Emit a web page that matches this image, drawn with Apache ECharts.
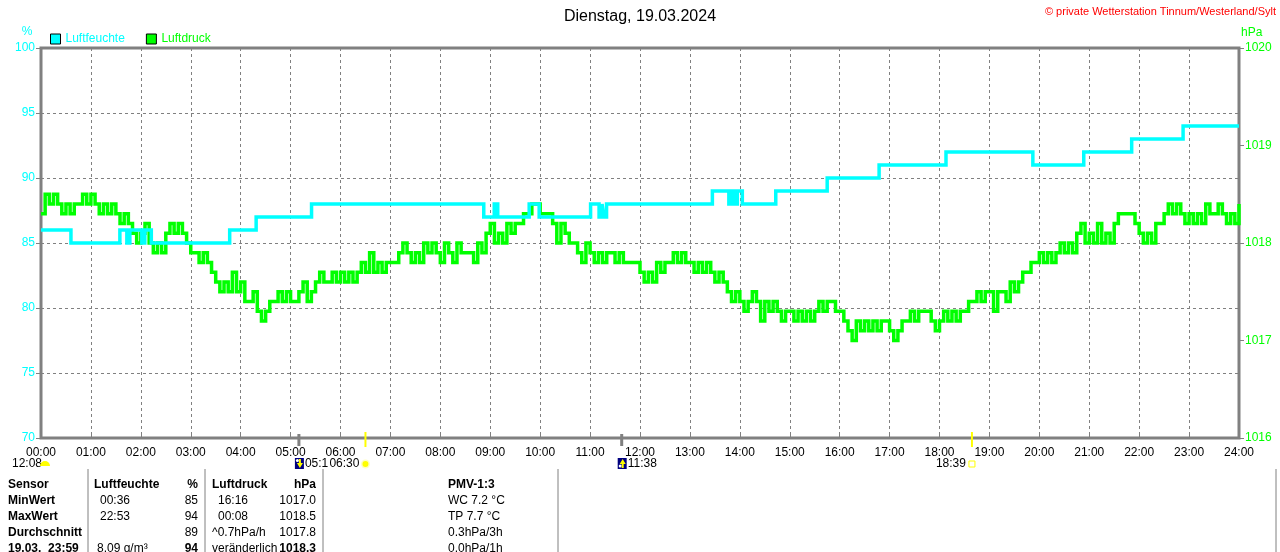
<!DOCTYPE html>
<html>
<head>
<meta charset="utf-8">
<title>Dienstag, 19.03.2024</title>
<script src="https://cdn.jsdelivr.net/npm/echarts@6/dist/echarts.min.js"></script>
<style>
html, body { margin: 0; padding: 0; background: #fff; }
#chart { width: 1280px; height: 552px; }
</style>
</head>
<body>
<div id="chart"></div>
<script>
// Luftfeuchte: time (hours) where a level starts, and the level in %
const humTimes = [0, 0.60, 1.58, 1.72, 1.78, 2.02, 2.08, 2.21, 3.78, 4.31, 5.42,
  8.87, 9.08, 9.15, 9.78, 9.98, 11.01, 11.18, 11.24, 11.28, 11.33,
  13.45, 13.78, 13.84, 13.90, 13.95, 14.05, 14.72, 15.75, 16.79, 18.13,
  19.87, 20.89, 21.85, 22.88, 24];
const humValues = [86, 85, 86, 85, 86, 85, 86, 85, 86, 87, 88,
  87, 88, 87, 88, 87, 88, 87, 88, 87, 88,
  89, 88, 89, 88, 89, 88, 89, 90, 91, 92,
  91, 92, 93, 94, 94];

// Luftdruck in hPa, one value every 5 minutes (one row per hour)
const pressStepMinutes = 5;
const pressValues = [
  1018.3,1018.5,1018.4,1018.5,1018.4,1018.3,1018.4,1018.3,1018.4,1018.4,1018.5,1018.4,
  1018.5,1018.4,1018.3,1018.4,1018.3,1018.4,1018.3,1018.2,1018.3,1018.2,1018.1,1018.0,
  1018.1,1018.2,1018.0,1017.9,1018.0,1017.9,1018.1,1018.2,1018.1,1018.2,1018.1,1018.0,
  1017.9,1017.9,1017.8,1017.9,1017.8,1017.7,1017.6,1017.5,1017.6,1017.5,1017.7,1017.5,
  1017.6,1017.4,1017.4,1017.5,1017.3,1017.2,1017.3,1017.4,1017.4,1017.5,1017.4,1017.5,
  1017.4,1017.4,1017.5,1017.6,1017.4,1017.5,1017.6,1017.7,1017.6,1017.6,1017.7,1017.6,
  1017.7,1017.6,1017.7,1017.6,1017.7,1017.8,1017.7,1017.9,1017.7,1017.8,1017.7,1017.8,
  1017.8,1017.8,1017.9,1018.0,1017.9,1017.8,1017.9,1017.8,1018.0,1017.9,1018.0,1017.9,
  1017.8,1018.0,1017.9,1017.8,1018.0,1017.9,1017.9,1017.9,1017.8,1018.0,1017.9,1018.1,
  1018.2,1018.0,1018.1,1018.0,1018.2,1018.1,1018.2,1018.2,1018.3,1018.3,1018.4,1018.4,
  1018.3,1018.3,1018.3,1018.2,1018.0,1018.2,1018.1,1018.0,1018.0,1017.9,1017.8,1018.0,
  1017.9,1017.8,1017.9,1017.8,1017.9,1017.9,1017.8,1017.9,1017.8,1017.8,1017.8,1017.8,
  1017.7,1017.6,1017.7,1017.6,1017.8,1017.7,1017.8,1017.8,1017.9,1017.8,1017.9,1017.8,
  1017.8,1017.7,1017.8,1017.7,1017.8,1017.7,1017.6,1017.7,1017.6,1017.5,1017.4,1017.5,
  1017.4,1017.3,1017.4,1017.5,1017.4,1017.2,1017.4,1017.3,1017.4,1017.3,1017.2,1017.3,
  1017.3,1017.2,1017.3,1017.2,1017.3,1017.2,1017.3,1017.4,1017.3,1017.4,1017.4,1017.3,
  1017.3,1017.2,1017.1,1017.0,1017.2,1017.1,1017.2,1017.1,1017.2,1017.1,1017.2,1017.2,
  1017.1,1017.0,1017.1,1017.2,1017.2,1017.3,1017.2,1017.3,1017.3,1017.3,1017.2,1017.1,
  1017.2,1017.3,1017.2,1017.3,1017.2,1017.3,1017.3,1017.4,1017.4,1017.5,1017.4,1017.5,
  1017.5,1017.3,1017.5,1017.5,1017.4,1017.6,1017.5,1017.6,1017.7,1017.7,1017.8,1017.8,
  1017.9,1017.8,1017.9,1017.8,1017.9,1018.0,1017.9,1018.0,1017.9,1018.1,1018.2,1018.0,
  1018.1,1018.0,1018.2,1018.0,1018.1,1018.0,1018.2,1018.3,1018.3,1018.3,1018.3,1018.2,
  1018.1,1018.0,1018.1,1018.0,1018.2,1018.2,1018.3,1018.4,1018.3,1018.4,1018.3,1018.2,
  1018.3,1018.2,1018.3,1018.2,1018.4,1018.3,1018.3,1018.4,1018.3,1018.2,1018.3,1018.2,
  1018.4
];

// sun / moon events (hours) below the time axis
const moonrise = 5 + 10 / 60;
const sunrise = 6.5;
const moonset = 11 + 38 / 60;
const sunset = 18 + 39 / 60;
const dayLength = '12:08';

// table below the chart
const tableHead = ['Sensor', 'Luftfeuchte', '%', 'Luftdruck', 'hPa', 'PMV-1:3'];
const rowNames = ['MinWert', 'MaxWert', 'Durchschnitt', '19.03.  23:59'];
const humTimeCol = ['00:36', '22:53', '', '8.09 g/m³'];
const humValCol = ['85', '94', '89', '94'];
const pressTimeCol = ['16:16', '00:08', '^0.7hPa/h', 'veränderlich'];
const pressValCol = ['1017.0', '1018.5', '1017.8', '1018.3'];
const pmvCol = ['WC 7.2 °C', 'TP 7.7 °C', '0.3hPa/3h', '0.0hPa/1h'];

const font = '"Liberation Sans", Arial, sans-serif';
const pad = n => (n < 10 ? '0' : '') + n;

const humData = humTimes.map((t, i) => [t, humValues[i]]);
const pressData = pressValues.map((v, i) => [i * pressStepMinutes / 60, v]);

const chart = echarts.init(document.getElementById('chart'));
chart.setOption({
  animation: false,
  textStyle: { fontFamily: font },
  title: {
    text: 'Dienstag, 19.03.2024', left: 'center', top: 4,
    textStyle: { fontSize: 16, fontWeight: 'normal', color: '#000', fontFamily: font }
  },
  legend: {
    left: 45, top: 28, icon: 'rect', itemWidth: 10, itemHeight: 10, itemGap: 21,
    itemStyle: { borderColor: '#000', borderWidth: 1 },
    textStyle: { fontSize: 12, fontFamily: font },
    data: [
      { name: 'Luftfeuchte', textStyle: { color: '#00ffff' } },
      { name: 'Luftdruck', textStyle: { color: '#00ff00' } }
    ]
  },
  grid: {
    left: 41, right: 41, top: 48, bottom: 114, show: true,
    borderColor: '#808080', borderWidth: 3, backgroundColor: 'transparent'
  },
  xAxis: {
    type: 'value', min: 0, max: 24, interval: 1,
    axisLine: { show: false },
    axisTick: { inside: true, length: 5, lineStyle: { color: '#808080' } },
    splitLine: { show: true, lineStyle: { color: '#808080', type: [3, 3] } },
    axisLabel: { formatter: v => pad(v) + ':00', color: '#000', fontSize: 12, margin: 9, fontFamily: font }
  },
  yAxis: [
    {
      type: 'value', min: 70, max: 100, interval: 5, position: 'left',
      axisLine: { show: false },
      axisTick: { show: true, length: 5, lineStyle: { color: '#808080' } },
      axisLabel: { color: '#00ffff', fontSize: 12, margin: 6, fontFamily: font },
      splitLine: { show: true, lineStyle: { color: '#808080', type: [3, 3] } }
    },
    {
      type: 'value', min: 1016, max: 1020, interval: 1, position: 'right',
      axisLine: { show: false },
      axisTick: { show: true, length: 5, lineStyle: { color: '#808080' } },
      axisLabel: { color: '#00ff00', fontSize: 12, margin: 6, fontFamily: font, formatter: v => String(v) },
      splitLine: { show: false }
    }
  ],
  series: [
    {
      name: 'Luftfeuchte', type: 'line', yAxisIndex: 0, step: 'end',
      showSymbol: false, data: humData, z: 3,
      itemStyle: { color: '#00ffff' },
      lineStyle: { color: '#00ffff', width: 3.5, join: 'miter', cap: 'butt' }
    },
    {
      name: 'Luftdruck', type: 'line', yAxisIndex: 1, step: 'end',
      showSymbol: false, data: pressData, z: 2,
      itemStyle: { color: '#00ff00' },
      lineStyle: { color: '#00ff00', width: 3.5, join: 'miter', cap: 'butt' }
    }
  ]
});

// decorations placed through the x scale
const px = t => chart.convertToPixel({ xAxisIndex: 0 }, t);
const axisY = chart.convertToPixel({ yAxisIndex: 0 }, 70);
const rowY = 464;

function txt(x, y, text, opt) {
  return {
    type: 'text', x: x, y: y, z: 10,
    style: Object.assign({
      text: text, fill: '#000', font: '12px ' + font,
      textAlign: 'left', textVerticalAlign: 'middle'
    }, opt || {})
  };
}
function moonIcon(x, up) {
  return {
    type: 'group', x: x - 4, y: rowY - 6, z: 10,
    children: [
      { type: 'rect', shape: { x: 0, y: 0, width: 9, height: 11 }, style: { fill: '#000080' } },
      { type: 'circle', shape: { cx: 2.5, cy: up ? 8 : 2.5, r: 1.5 }, style: { fill: '#ffffff' } },
      { type: 'polygon', shape: { points: up ? [[5, 1], [8, 6], [6, 6], [6, 10], [4, 10], [4, 6], [2, 6]] : [[5, 10], [8, 5], [6, 5], [6, 1], [4, 1], [4, 5], [2, 5]] }, style: { fill: '#ffff00' } }
    ]
  };
}

const g = [];
g.push(txt(1276, 12, '© private Wetterstation Tinnum/Westerland/Sylt', { fill: '#ff0000', textAlign: 'right', font: '11px ' + font }));
g.push(txt(27, 32, '%', { fill: '#00ffff', textAlign: 'center', font: '12px ' + font }));
g.push(txt(1241, 33, 'hPa', { fill: '#00ff00', font: '12px ' + font }));

// sun / moon ticks on the axis
[sunrise, sunset].forEach(t => g.push({
  type: 'line', z: 9, shape: { x1: px(t), y1: axisY - 6, x2: px(t), y2: axisY + 9 },
  style: { stroke: '#ffff00', lineWidth: 2 }
}));
[moonrise, moonset].forEach(t => g.push({
  type: 'line', z: 9, shape: { x1: px(t), y1: axisY - 4, x2: px(t), y2: axisY + 8 },
  style: { stroke: '#808080', lineWidth: 3 }
}));

// second row below the axis
g.push(txt(12, rowY, dayLength));
g.push({ type: 'sector', z: 10, shape: { cx: 45, cy: rowY + 2, r: 5, startAngle: Math.PI, endAngle: 2 * Math.PI }, style: { fill: '#ffff00' } });
g.push(moonIcon(px(moonrise), false));
g.push(txt(px(moonrise) + 6, rowY, '05:1'));
g.push(txt(px(sunrise) - 6, rowY, '06:30', { textAlign: 'right' }));
g.push({ type: 'circle', z: 10, shape: { cx: px(sunrise), cy: rowY, r: 4.5 }, style: { fill: '#ffffc0' } });
g.push({ type: 'circle', z: 10, shape: { cx: px(sunrise), cy: rowY, r: 3 }, style: { fill: '#ffff00' } });
g.push(moonIcon(px(moonset), true));
g.push(txt(px(moonset) + 6, rowY, '11:38'));
g.push(txt(px(sunset) - 6, rowY, '18:39', { textAlign: 'right' }));
g.push({ type: 'rect', z: 10, shape: { x: px(sunset) - 3, y: rowY - 3, width: 6, height: 6 }, style: { fill: 'none', stroke: '#ffff00', lineWidth: 1 } });

// table
[88, 205, 323, 558, 1276].forEach(x => g.push({
  type: 'line', z: 9, shape: { x1: x, y1: 469, x2: x, y2: 552 },
  style: { stroke: '#808080', lineWidth: 1 }
}));
const bold = 'bold 12px ' + font;
const headY = 485;
g.push(txt(8, headY, tableHead[0], { font: bold }));
g.push(txt(94, headY, tableHead[1], { font: bold }));
g.push(txt(198, headY, tableHead[2], { font: bold, textAlign: 'right' }));
g.push(txt(212, headY, tableHead[3], { font: bold }));
g.push(txt(316, headY, tableHead[4], { font: bold, textAlign: 'right' }));
g.push(txt(448, headY, tableHead[5], { font: bold }));
rowNames.forEach((name, i) => {
  const y = headY + 16 * (i + 1);
  const last = i === rowNames.length - 1;
  g.push(txt(8, y, name, { font: bold }));
  g.push(txt(last ? 97 : 100, y, humTimeCol[i]));
  g.push(txt(198, y, humValCol[i], { textAlign: 'right', font: last ? bold : '12px ' + font }));
  g.push(txt(i < 2 ? 218 : 212, y, pressTimeCol[i]));
  g.push(txt(316, y, pressValCol[i], { textAlign: 'right', font: last ? bold : '12px ' + font }));
  g.push(txt(448, y, pmvCol[i]));
});

chart.setOption({ graphic: { elements: g } });
window.onresize = () => chart.resize();
</script>
</body>
</html>
